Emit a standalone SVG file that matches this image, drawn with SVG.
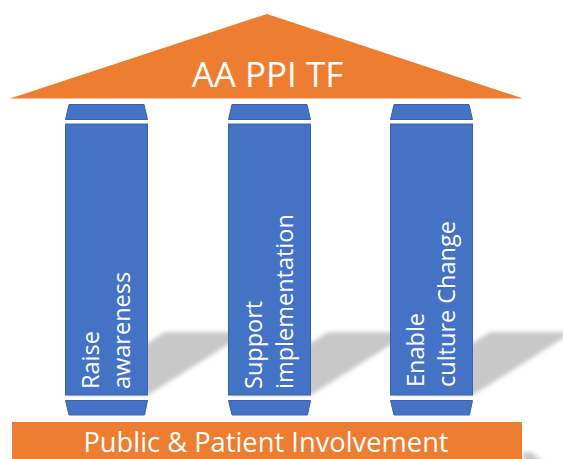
<svg xmlns="http://www.w3.org/2000/svg" width="563" height="459" viewBox="0 0 563 459">
  <style>
    .orange { fill: #ED7D31; }
    .col { fill: #4472C4; stroke: #3A62AC; stroke-width: 1; }
    .shadow { fill: #C8C8C8; filter: url(#soft); }
    .label { font-family: "Open Sans", "Liberation Sans", sans-serif; fill: #FFFFFF; }
    .colText { font-size: 23.5px; }
  </style>
  <defs>
    <filter id="soft" x="-20%" y="-20%" width="140%" height="140%">
      <feGaussianBlur stdDeviation="2"/>
    </filter>
  </defs>

  <rect width="563" height="459" fill="#FFFFFF"/>

  <!-- cast shadows behind the columns and the base -->
  <g id="shadows">
    <polygon class="shadow" points="65,395 148,395 248,332 165,332"/>
    <polygon class="shadow" points="228,395 311,395 411,332 328,332"/>
    <polygon class="shadow" points="390,395 473,395 573,332 490,332"/>
    <polygon class="shadow" points="523,452 531,452 546,464 523,464"/>
  </g>

  <!-- roof -->
  <g id="roof">
    <polygon class="orange" points="10,98.5 267,14 523,98.5"/>
    <text class="label" x="267.5" y="87" font-size="35" text-anchor="middle">AA PPI TF</text>
  </g>

  <!-- column 1 -->
  <g id="pillar-awareness">
    <polygon class="col" points="69,104.5 144,104.5 147.5,119.5 65.5,119.5"/>
    <rect class="col" x="65.5" y="124" width="82" height="271"/>
    <polygon class="col" points="65.5,400.5 147.5,400.5 144.5,415 69,415"/>
    <text class="label colText" transform="translate(99,389) rotate(-90)">Raise<tspan x="0" dy="31">awareness</tspan></text>
  </g>

  <!-- column 2 -->
  <g id="pillar-implementation">
    <polygon class="col" points="232,104.5 307,104.5 310.5,119.5 228.5,119.5"/>
    <rect class="col" x="228.5" y="124" width="82" height="271"/>
    <polygon class="col" points="228.5,400.5 310.5,400.5 307.5,415 232,415"/>
    <text class="label colText" transform="translate(262,389) rotate(-90)">Support<tspan x="0" dy="31">implementation</tspan></text>
  </g>

  <!-- column 3 -->
  <g id="pillar-culture">
    <polygon class="col" points="394,104.5 469,104.5 472.5,119.5 390.5,119.5"/>
    <rect class="col" x="390.5" y="124" width="82" height="271"/>
    <polygon class="col" points="390.5,400.5 472.5,400.5 469.5,415 394,415"/>
    <text class="label colText" transform="translate(424,387) rotate(-90)">Enable<tspan x="0" dy="31">culture Change</tspan></text>
  </g>

  <!-- base -->
  <g id="base">
    <rect class="orange" x="12" y="422" width="510" height="40"/>
    <text class="label" x="266" y="452" font-size="27.3" text-anchor="middle">Public &amp; Patient Involvement</text>
  </g>
</svg>
